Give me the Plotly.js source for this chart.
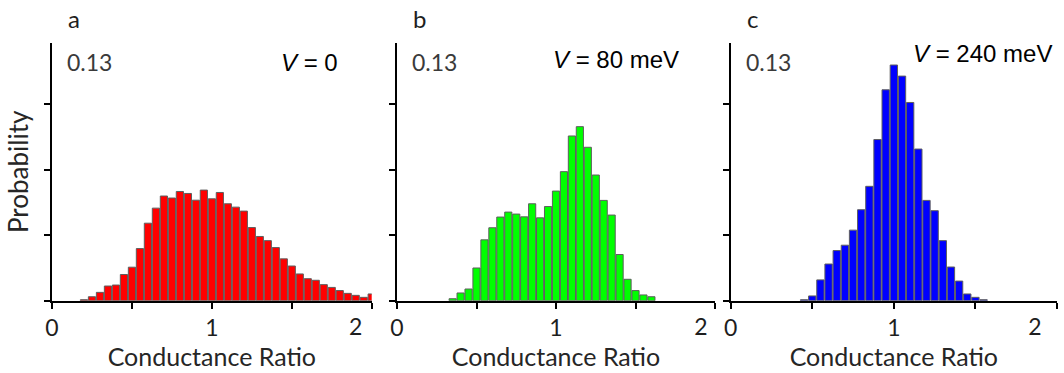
<!DOCTYPE html>
<html><head><meta charset="utf-8">
<script src="https://cdn.plot.ly/plotly-3.0.1.min.js"></script>
<style>html,body{margin:0;padding:0;background:#fff}#chart{width:1064px;height:373px}</style>
</head><body><div id="chart"></div>
<script>
// Panel a: V = 0
const ratioA = [0.20,0.25,0.30,0.35,0.40,0.45,0.50,0.55,0.60,0.65,0.70,0.75,0.80,0.85,0.90,0.95,1.00,1.05,1.10,1.15,1.20,1.25,1.30,1.35,1.40,1.45,1.50,1.55,1.60,1.65,1.70,1.75,1.80,1.85,1.90,1.95,2.00];
const probA = [0.0005,0.0020,0.0042,0.0074,0.0079,0.0132,0.0169,0.0263,0.0391,0.0467,0.0528,0.0518,0.0551,0.0541,0.0507,0.0558,0.0514,0.0546,0.0489,0.0472,0.0452,0.0369,0.0324,0.0303,0.0268,0.0211,0.0175,0.0135,0.0111,0.0103,0.0081,0.0067,0.0051,0.0037,0.0027,0.0017,0.0034];
// Panel b: V = 80 meV
const ratioB = [0.35,0.40,0.45,0.50,0.55,0.60,0.65,0.70,0.75,0.80,0.85,0.90,0.95,1.00,1.05,1.10,1.15,1.20,1.25,1.30,1.35,1.40,1.45,1.50,1.55,1.60];
const probB = [0.0010,0.0039,0.0059,0.0165,0.0307,0.0368,0.0422,0.0447,0.0437,0.0423,0.0489,0.0418,0.0475,0.0553,0.0651,0.0831,0.0878,0.0774,0.0634,0.0506,0.0432,0.0233,0.0108,0.0051,0.0029,0.0020];
// Panel c: V = 240 meV
const ratioC = [0.45,0.50,0.55,0.60,0.65,0.70,0.75,0.80,0.85,0.90,0.95,1.00,1.05,1.10,1.15,1.20,1.25,1.30,1.35,1.40,1.45,1.50,1.55];
const probC = [0.0005,0.0024,0.0105,0.0185,0.0253,0.0280,0.0356,0.0459,0.0577,0.0813,0.1064,0.1189,0.1133,0.1000,0.0765,0.0506,0.0454,0.0303,0.0170,0.0099,0.0034,0.0017,0.0005];

const panelLetters = ['a','b','c'];
const voltageLabels = ['<i>V</i> = 0','<i>V</i> = 80 meV','<i>V</i> = 240 meV'];
const yMaxLabel = '0.13';
const xTickVals = [0,0.5,1,1.5,2];
const xTickText = ['0','','1','','2'];
const yTickVals = [0,0.033,0.066,0.099];
const xTitle = 'Conductance Ratio';
const yTitle = 'Probability';

const W = 1064, H = 373;
const px = v => v / W;
const py = v => 1 - v / H;

const FONT = 'Lato, "Open Sans", sans-serif';
const ARIAL = '"Liberation Sans", Arial, sans-serif';
const TICKFONT = {family:FONT, size:23, color:'#1e1e1e'};

function bar(x, y, color, xa, ya) {
  return {type:'bar', x:x, y:y, xaxis:xa, yaxis:ya,
    marker:{color:color, line:{color:'#5e5e5e', width:1}},
    hoverinfo:'x+y', showlegend:false};
}
// invisible carrier so the overlay axis holding the end label "2" is drawn
function carrier(xa, ya) {
  return {type:'scatter', mode:'none', x:[xTickVals[4]], y:[0], xaxis:xa, yaxis:ya,
    hoverinfo:'skip', showlegend:false};
}

function xAxis(domain, anchor) {
  return {domain:domain, anchor:anchor, range:[0,2], showline:true, linecolor:'#000', linewidth:2,
    ticks:'outside', ticklen:6, tickwidth:2, tickcolor:'#000',
    tickmode:'array', tickvals:xTickVals, ticktext:xTickText.map((t, i) => i === 4 ? '' : t),
    showgrid:false, zeroline:false, tickfont:TICKFONT,
    title:{text:xTitle, font:{family:FONT, size:25, color:'#262626'}, standoff:8}};
}
function xAxisEnd(over, anchor, shift) {
  return {overlaying:over, anchor:anchor, side:'bottom', range:[0,2], showline:false,
    ticks:'outside', ticklen:6, tickwidth:2, tickcolor:'rgba(0,0,0,0)',
    tickmode:'array', tickvals:[xTickVals[4]], ticktext:[xTickText[4]],
    ticklabelshift:shift, showgrid:false, zeroline:false, tickfont:TICKFONT};
}
function yAxis(anchor, title) {
  const ax = {domain:[py(300.7), py(43)], anchor:anchor, range:[0,0.13], showline:true, linecolor:'#000', linewidth:2,
    ticks:'outside', ticklen:6, tickwidth:2, tickcolor:'#000',
    tickmode:'array', tickvals:yTickVals, showticklabels:false,
    showgrid:false, zeroline:false};
  if (title) ax.title = {text:title, font:{family:FONT, size:26, color:'#262626'}, standoff:8};
  return ax;
}

const data = [
  bar(ratioA, probA, '#ff0000', 'x', 'y'),
  bar(ratioB, probB, '#00ff00', 'x2', 'y2'),
  bar(ratioC, probC, '#0000ff', 'x3', 'y3'),
  carrier('x4', 'y'),
  carrier('x5', 'y2'),
  carrier('x6', 'y3')
];

const axLeft = [52, 397, 730.7];
const vLeft = [280, 551.7, 911.7];
const vY = [62, 59, 54];
const annotations = [];
for (let i = 0; i < 3; i++) {
  annotations.push({xref:'paper', yref:'paper', x:px(axLeft[i]+15), y:py(18), xanchor:'left', yanchor:'middle',
    text:panelLetters[i], showarrow:false, borderpad:0, font:{family:FONT, size:24, color:'#1e1e1e'}});
  annotations.push({xref:'paper', yref:'paper', x:px(axLeft[i]+14), y:py(62), xanchor:'left', yanchor:'middle',
    text:yMaxLabel, showarrow:false, borderpad:0, font:{family:FONT, size:23, color:'#3a3a3a'}});
  annotations.push({xref:'paper', yref:'paper', x:px(vLeft[i]), y:py(vY[i]), xanchor:'left', yanchor:'middle',
    text:voltageLabels[i], showarrow:false, borderpad:0, font:{family:ARIAL, size:24, color:'#000'}});
}

const layout = {
  width:W, height:H, margin:{l:0,r:0,t:0,b:0},
  paper_bgcolor:'#fff', plot_bgcolor:'#fff',
  bargap:0.1,
  xaxis: xAxis([px(52), px(371.7)], 'y'),
  xaxis2: xAxis([px(397), px(715)], 'y2'),
  xaxis3: xAxis([px(730.7), px(1057)], 'y3'),
  xaxis4: xAxisEnd('x', 'y', -16),
  xaxis5: xAxisEnd('x2', 'y2', -14),
  xaxis6: xAxisEnd('x3', 'y3', -22),
  yaxis: yAxis('x', yTitle),
  yaxis2: yAxis('x2'),
  yaxis3: yAxis('x3'),
  annotations: annotations
};

Plotly.newPlot('chart', data, layout, {displayModeBar:false, staticPlot:true});
</script>
</body></html>
